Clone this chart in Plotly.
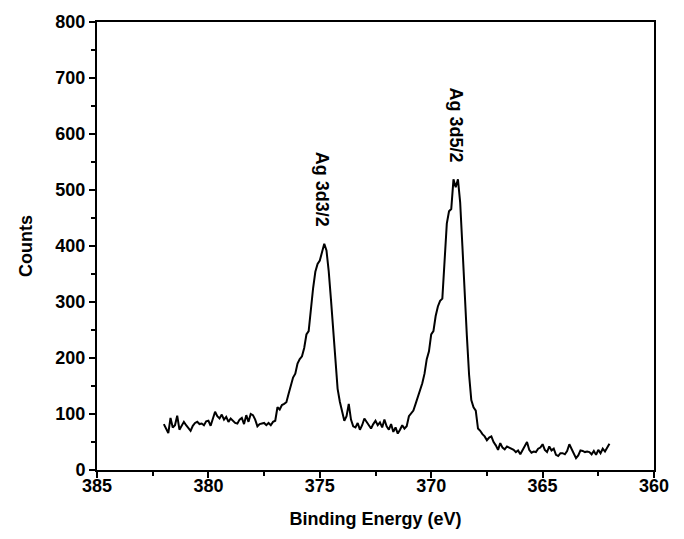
import plotly.graph_objects as go

# Binding energy (eV), from 382.0 down to 362.0 in 0.1 eV steps
energy = [round(382.0 - 0.1 * i, 1) for i in range(201)]

counts = [
    # 382.0 - 378.0
    82, 75, 66, 93, 76, 80, 97, 72, 78, 86,
    80, 74, 70, 79, 84, 86, 82, 83, 80, 87,
    88, 79, 90, 104, 96, 92, 99, 90, 95, 86,
    92, 88, 84, 83, 90, 93, 82, 98, 86, 100,
    # 378.0 - 374.0
    98, 90, 78, 82, 83, 84, 80, 84, 80, 86,
    88, 112, 108, 116, 118, 121, 136, 150, 165, 172,
    190, 198, 203, 218, 242, 248, 290, 325, 354, 368,
    374, 390, 404, 392, 355, 305, 250, 195, 145, 122,
    # 374.0 - 370.0
    103, 88, 96, 118, 90, 78, 76, 84, 72, 80,
    92, 86, 78, 74, 82, 88, 80, 85, 76, 90,
    78, 72, 82, 68, 76, 65, 72, 80, 74, 78,
    96, 102, 106, 118, 130, 141, 155, 172, 198, 212,
    # 370.0 - 366.0
    242, 248, 275, 292, 302, 306, 370, 440, 462, 466,
    519, 505, 519, 478, 400, 310, 240, 170, 125, 112,
    106, 74, 70, 64, 60, 53, 58, 60, 50, 44,
    36, 48, 40, 37, 42, 40, 38, 36, 32, 35,
    # 366.0 - 362.0
    28, 36, 44, 50, 36, 31, 33, 32, 38, 40,
    46, 36, 32, 42, 35, 38, 27, 25, 30, 30,
    28, 34, 46, 38, 28, 21, 26, 35, 34, 32,
    33, 32, 28, 34, 27, 36, 30, 38, 33, 40,
    47,
]

peak_labels = ["Ag 3d3/2", "Ag 3d5/2"]
peak_x = [374.9, 368.93]
peak_y = [502, 617]

FONT = "Liberation Sans, Arial, sans-serif"

fig = go.Figure()
fig.add_trace(go.Scatter(
    x=energy, y=counts, mode="lines",
    line=dict(color="black", width=2),
    showlegend=False,
))

for t, xv, yv in zip(peak_labels, peak_x, peak_y):
    fig.add_annotation(
        x=xv, y=yv, text="<b>%s</b>" % t, textangle=90, showarrow=False,
        font=dict(family=FONT, size=18, color="black"),
    )

axis_common = dict(
    showgrid=False, zeroline=False,
    showline=True, linecolor="black", linewidth=2, mirror=True,
    ticks="outside", ticklen=6, tickwidth=2, tickcolor="black",
    tickfont=dict(family=FONT, size=18, color="black"),
)

fig.update_xaxes(
    range=[385, 360], tickvals=[385, 380, 375, 370, 365, 360],
    ticktext=["<b>%d</b>" % v for v in [385, 380, 375, 370, 365, 360]],
    minor=dict(ticks="outside", ticklen=4, tickwidth=2, tickcolor="black", dtick=2.5, tick0=385),
    ticklabelstandoff=-8,
    title=dict(text="<b>Binding Energy (eV)</b>", font=dict(family=FONT, size=18, color="black"), standoff=18),
    **axis_common,
)
fig.update_yaxes(
    range=[0, 800], tickvals=list(range(0, 801, 100)),
    ticktext=["<b>%d</b>" % v for v in range(0, 801, 100)],
    minor=dict(ticks="outside", ticklen=4, tickwidth=2, tickcolor="black", dtick=50, tick0=0),
    title=dict(text="<b>Counts</b>", font=dict(family=FONT, size=18, color="black"), standoff=18),
    **axis_common,
)

fig.update_layout(
    width=684, height=539,
    margin=dict(l=97, r=30, t=17, b=69),
    plot_bgcolor="white", paper_bgcolor="white",
)

fig.write_html("out.html")
